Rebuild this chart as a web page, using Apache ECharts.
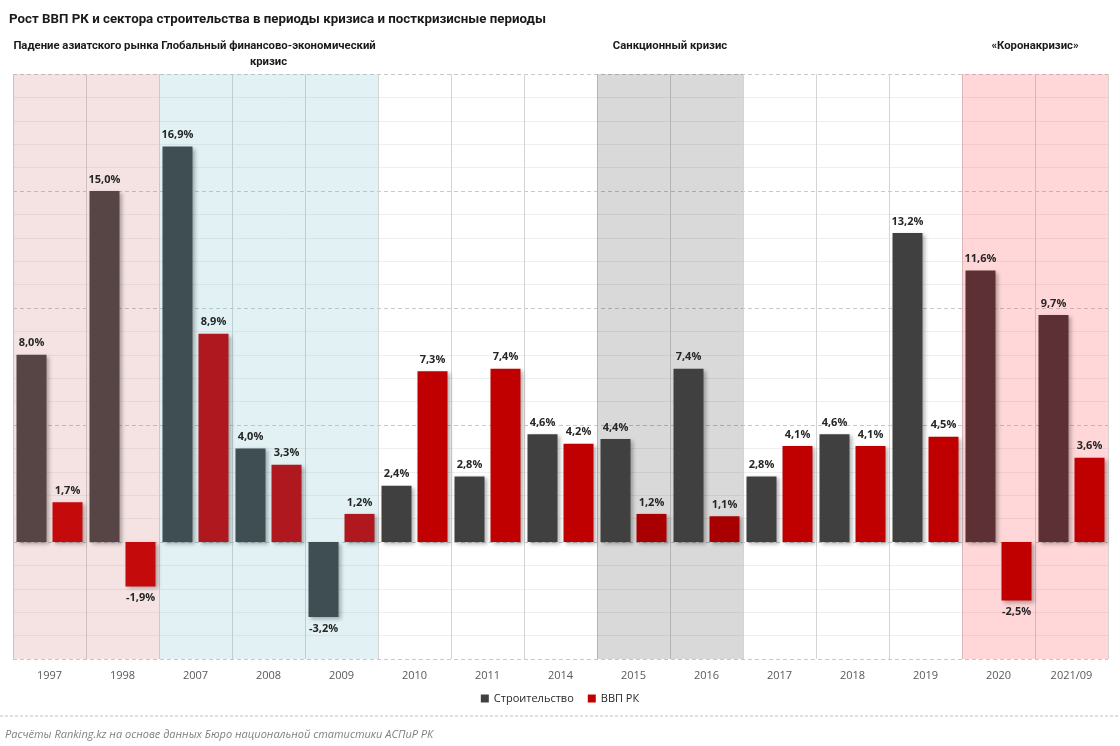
<!DOCTYPE html>
<html><head><meta charset="utf-8">
<script src="https://cdn.jsdelivr.net/npm/echarts@6/dist/echarts.min.js"></script>
<style>html,body{margin:0;padding:0;background:#fff}#c{width:1120px;height:746px}</style>
</head><body><div id="c"></div>
<script>
const categories = ['1997','1998','2007','2008','2009','2010','2011','2014','2015','2016','2017','2018','2019','2020','2021/09'];
const construction = [8.0, 15.0, 16.9, 4.0, -3.2, 2.4, 2.8, 4.6, 4.4, 7.4, 2.8, 4.6, 13.2, 11.6, 9.7];
const gdp = [1.7, -1.9, 8.9, 3.3, 1.2, 7.3, 7.4, 4.2, 1.2, 1.1, 4.1, 4.1, 4.5, -2.5, 3.6];
const periodNames = ['Падение азиатского рынка', 'Глобальный финансово-экономический\nкризис', 'Санкционный кризис', '«Коронакризис»'];
const periodStart = ['1997', '2007', '2015', '2020'];
const periodEnd = ['1998', '2009', '2016', '2021/09'];
const seriesNames = ['Строительство', 'ВВП РК'];

// style config
const periodFill = ['rgba(200,99,99,0.18)', 'rgba(105,185,200,0.2)', 'rgba(0,0,0,0.15)', 'rgba(255,55,60,0.2)'];
const groupOf = [0,0,1,1,1,-1,-1,-1,2,2,-1,-1,-1,3,3];
const consColors = {'-1':'#404040', 0:'#574545', 1:'#3f4e52', 2:'#404040', 3:'#5c3035'};
const gdpColors = {'-1':'#c00000', 0:'#c40a0a', 1:'#b01820', 2:'#a80000', 3:'#c00000'};

const fmt = v => v.toFixed(1).replace('.', ',') + '%';
const FONT = '"Open Sans", "Noto Sans", sans-serif';
const HFONT = 'Roboto, "Open Sans", sans-serif';

function items(vals, colors) {
  return vals.map((v, i) => ({
    value: v,
    itemStyle: { color: colors[groupOf[i]] },
    label: { position: v < 0 ? 'bottom' : 'top' }
  }));
}

const barCommon = {
  type: 'bar',
  barWidth: 30,
  barGap: '20%',
  itemStyle: { shadowBlur: 4, shadowOffsetX: 2, shadowOffsetY: 2, shadowColor: 'rgba(0,0,0,0.3)' },
  label: {
    show: true, distance: 6, formatter: p => fmt(p.value),
    fontFamily: FONT, fontSize: 11, fontWeight: 'bold', color: '#262626'
  }
};

const chart = echarts.init(document.getElementById('c'));
chart.setOption({
  animation: false,
  textStyle: { fontFamily: FONT },
  title: {
    text: 'Рост ВВП РК и сектора строительства в периоды кризиса и посткризисные периоды',
    left: 4, top: 8,
    textStyle: { fontFamily: HFONT, fontSize: 13.3, fontWeight: 'bold', color: '#1a1a1a' }
  },
  legend: {
    bottom: 37, left: 'center',
    icon: 'rect', itemWidth: 8, itemHeight: 8, itemGap: 14,
    textStyle: { fontFamily: FONT, fontSize: 11, color: '#262626' },
    data: [{ name: seriesNames[0], itemStyle: { color: '#404040' } }, { name: seriesNames[1], itemStyle: { color: '#c00000' } }]
  },
  grid: { left: 13, right: 12, top: 74, bottom: 87 },
  xAxis: {
    type: 'category', data: categories,
    axisLine: { show: false }, axisTick: { show: false },
    axisLabel: { fontFamily: FONT, fontSize: 11, color: '#595959', margin: 11 },
    splitLine: { show: true, lineStyle: { color: '#d4d4d4', width: 1 } }
  },
  yAxis: {
    type: 'value', min: -5, max: 20, interval: 5,
    axisLabel: { show: false }, axisLine: { show: false }, axisTick: { show: false },
    splitLine: { show: true, lineStyle: { color: '#c8c8c8', type: [4, 3] } },
    minorTick: { show: false, splitNumber: 5 },
    minorSplitLine: { show: true, lineStyle: { color: '#efefef' } }
  },
  graphic: [
    { type: 'line', shape: { x1: 0, y1: 716, x2: 1120, y2: 716 }, style: { stroke: '#bfbfbf', lineDash: [3, 2], lineWidth: 1 } },
    { type: 'text', left: 5, top: 729, style: { text: 'Расчёты Ranking.kz на основе данных Бюро национальной статистики АСПиР РК', font: 'italic 11px ' + FONT, fill: '#7f7f7f' } }
  ],
  series: [
    Object.assign({}, barCommon, {
      name: seriesNames[0], data: items(construction, consColors),
      markArea: {
        silent: true,
        label: { show: true, position: 'top', fontFamily: HFONT, fontSize: 11.3, fontWeight: 'bold', color: '#1a1a1a', lineHeight: 16 },
        data: periodNames.map((n, k) => [
          { name: n, xAxis: periodStart[k], yAxis: 20, itemStyle: { color: periodFill[k] },
            label: { distance: n.indexOf('\n') >= 0 ? 4 : 20 } },
          { xAxis: periodEnd[k], yAxis: -5 }
        ])
      }
    }),
    Object.assign({}, barCommon, { name: seriesNames[1], data: items(gdp, gdpColors) })
  ]
});
</script></body></html>
